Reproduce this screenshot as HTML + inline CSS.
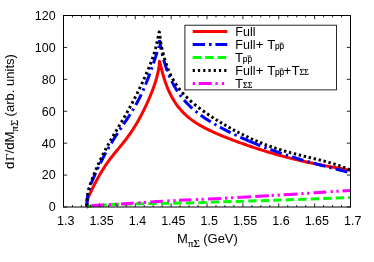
<!DOCTYPE html>
<html><head><meta charset="utf-8"><title>plot</title>
<style>
html,body{margin:0;padding:0;background:#fff;}
svg{display:block;will-change:transform;}
text{font-family:"Liberation Sans",sans-serif;fill:#000;}
text.sf{font-family:"Liberation Serif",serif;}
</style></head><body>
<svg width="374" height="262" viewBox="0 0 374 262">
<rect width="374" height="262" fill="#fff"/>

<g fill="none" stroke-width="3.0" stroke-linejoin="round">
<path d="M86.90,207.00 L86.91,205.72 L86.95,204.56 L87.01,203.52 L87.10,202.57 L87.22,201.70 L87.35,200.88 L87.52,200.11 L87.71,199.37 L87.92,198.65 L88.16,197.94 L88.42,197.23 L88.71,196.51 L89.02,195.78 L89.35,195.02 L89.71,194.23 L90.09,193.41 L90.49,192.56 L90.92,191.68 L91.37,190.75 L91.84,189.79 L92.34,188.79 L92.85,187.76 L93.39,186.69 L93.95,185.58 L94.52,184.44 L95.12,183.28 L95.74,182.09 L96.37,180.88 L97.03,179.65 L97.70,178.40 L98.39,177.14 L99.10,175.87 L99.83,174.59 L100.57,173.31 L101.32,172.03 L102.10,170.75 L102.88,169.48 L103.68,168.21 L104.50,166.95 L105.33,165.70 L106.17,164.46 L107.02,163.24 L107.88,162.02 L108.76,160.82 L109.64,159.62 L110.53,158.44 L111.44,157.27 L112.35,156.11 L113.27,154.96 L114.19,153.81 L115.12,152.67 L116.06,151.53 L117.00,150.39 L117.95,149.25 L118.90,148.11 L119.85,146.96 L120.81,145.80 L121.76,144.63 L122.72,143.44 L123.68,142.24 L124.64,141.03 L125.59,139.79 L126.55,138.54 L127.50,137.26 L128.45,135.97 L129.40,134.64 L130.34,133.30 L131.28,131.93 L132.21,130.53 L133.13,129.12 L134.05,127.67 L134.96,126.21 L135.87,124.72 L136.76,123.22 L137.64,121.69 L138.52,120.15 L139.38,118.59 L140.23,117.02 L141.07,115.44 L141.90,113.85 L142.72,112.26 L143.52,110.66 L144.30,109.06 L145.08,107.46 L145.83,105.86 L146.57,104.26 L147.30,102.68 L148.01,101.10 L148.70,99.53 L149.37,97.97 L150.03,96.43 L150.66,94.90 L151.28,93.38 L151.88,91.88 L152.45,90.39 L153.01,88.91 L153.55,87.45 L154.06,86.00 L154.56,84.56 L155.03,83.14 L155.48,81.73 L155.91,80.33 L156.31,78.94 L156.69,77.57 L157.05,76.21 L157.38,74.86 L157.69,73.53 L157.98,72.23 L158.24,70.94 L158.48,69.69 L158.69,68.48 L158.88,67.31 L159.05,66.20 L159.18,65.16 L159.30,64.21 L159.39,63.35 L159.45,62.61 L159.49,62.02 L159.50,61.60 L159.51,61.60 L159.53,61.60 L159.57,61.60 L159.62,61.60 L159.69,61.60 L159.77,61.73 L159.87,62.11 L159.98,62.59 L160.11,63.14 L160.25,63.76 L160.41,64.46 L160.59,65.22 L160.77,66.03 L160.98,66.90 L161.20,67.82 L161.43,68.78 L161.68,69.78 L161.94,70.81 L162.22,71.88 L162.52,72.98 L162.83,74.09 L163.15,75.23 L163.49,76.39 L163.84,77.57 L164.21,78.75 L164.60,79.94 L165.00,81.15 L165.41,82.35 L165.84,83.56 L166.29,84.77 L166.75,85.98 L167.22,87.18 L167.71,88.38 L168.22,89.58 L168.74,90.76 L169.28,91.94 L169.83,93.10 L170.39,94.26 L170.97,95.40 L171.57,96.53 L172.18,97.65 L172.81,98.75 L173.45,99.84 L174.10,100.91 L174.78,101.97 L175.46,103.01 L176.16,104.03 L176.88,105.03 L177.61,106.02 L178.36,107.00 L179.12,107.95 L179.90,108.89 L180.69,109.81 L181.50,110.71 L182.32,111.60 L183.16,112.47 L184.01,113.33 L184.88,114.17 L185.76,114.99 L186.66,115.80 L187.57,116.59 L188.50,117.37 L189.44,118.14 L190.40,118.89 L191.37,119.63 L192.36,120.35 L193.36,121.07 L194.38,121.77 L195.41,122.46 L196.46,123.14 L197.53,123.81 L198.60,124.47 L199.70,125.12 L200.81,125.76 L201.93,126.40 L203.07,127.02 L204.22,127.64 L205.39,128.25 L206.58,128.86 L207.78,129.46 L208.99,130.06 L210.22,130.65 L211.47,131.23 L212.72,131.82 L214.00,132.40 L215.29,132.97 L216.59,133.54 L217.91,134.11 L219.25,134.68 L220.60,135.25 L221.97,135.81 L223.35,136.38 L224.74,136.94 L226.15,137.50 L227.58,138.06 L229.02,138.63 L230.47,139.19 L231.95,139.75 L233.43,140.31 L234.93,140.87 L236.45,141.43 L237.98,141.99 L239.53,142.55 L241.09,143.11 L242.66,143.67 L244.26,144.23 L245.86,144.79 L247.48,145.36 L249.12,145.92 L250.77,146.48 L252.44,147.04 L254.12,147.60 L255.82,148.16 L257.53,148.72 L259.26,149.27 L261.00,149.83 L262.76,150.38 L264.53,150.94 L266.32,151.49 L268.12,152.04 L269.94,152.58 L271.77,153.13 L273.62,153.67 L275.48,154.20 L277.36,154.74 L279.26,155.27 L281.16,155.79 L283.09,156.32 L285.03,156.83 L286.98,157.35 L288.95,157.85 L290.93,158.36 L292.93,158.86 L294.95,159.35 L296.98,159.83 L299.02,160.32 L301.08,160.79 L303.15,161.26 L305.24,161.73 L307.35,162.19 L309.47,162.64 L311.60,163.09 L313.75,163.53 L315.92,163.97 L318.10,164.41 L320.29,164.84 L322.50,165.26 L324.73,165.68 L326.97,166.10 L329.22,166.52 L331.49,166.94 L333.78,167.35 L336.08,167.77 L338.39,168.18 L340.73,168.60 L343.07,169.02 L345.43,169.44 L347.81,169.87 L350.20,170.31" stroke="#ff0000"/>
<path d="M158.1,62.6 L158.85,59.5 L160.4,62.6 Z" fill="#ff0000" stroke="none"/>
<path d="M86.90,207.00 L86.91,205.28 L86.95,203.66 L87.01,202.14 L87.10,200.70 L87.22,199.33 L87.35,198.03 L87.52,196.77 L87.71,195.56 L87.92,194.39 L88.16,193.24 L88.42,192.11 L88.71,190.99 L89.02,189.88 L89.35,188.77 L89.71,187.66 L90.09,186.53 L90.49,185.40 L90.92,184.25 L91.37,183.08 L91.84,181.89 L92.34,180.67 L92.85,179.44 L93.39,178.18 L93.95,176.89 L94.52,175.58 L95.12,174.24 L95.74,172.88 L96.37,171.49 L97.03,170.08 L97.70,168.65 L98.39,167.20 L99.10,165.74 L99.83,164.25 L100.57,162.76 L101.32,161.25 L102.10,159.73 L102.88,158.20 L103.68,156.67 L104.50,155.13 L105.33,153.59 L106.17,152.05 L107.02,150.52 L107.88,148.98 L108.76,147.46 L109.64,145.94 L110.53,144.42 L111.44,142.92 L112.35,141.42 L113.27,139.93 L114.19,138.46 L115.12,136.99 L116.06,135.53 L117.00,134.08 L117.95,132.64 L118.90,131.21 L119.85,129.79 L120.81,128.36 L121.76,126.95 L122.72,125.53 L123.68,124.12 L124.64,122.70 L125.59,121.28 L126.55,119.85 L127.50,118.42 L128.45,116.97 L129.40,115.52 L130.34,114.05 L131.28,112.56 L132.21,111.05 L133.13,109.53 L134.05,107.99 L134.96,106.42 L135.87,104.83 L136.76,103.21 L137.64,101.57 L138.52,99.90 L139.38,98.21 L140.23,96.50 L141.07,94.76 L141.90,93.00 L142.72,91.23 L143.52,89.43 L144.30,87.62 L145.08,85.79 L145.83,83.96 L146.57,82.12 L147.30,80.28 L148.01,78.45 L148.70,76.62 L149.37,74.81 L150.03,73.01 L150.66,71.24 L151.28,69.50 L151.88,67.79 L152.45,66.12 L153.01,64.50 L153.55,62.92 L154.06,61.40 L154.56,59.94 L155.03,58.55 L155.48,57.22 L155.91,55.95 L156.31,54.75 L156.69,53.63 L157.05,52.57 L157.38,51.57 L157.69,50.64 L157.98,49.76 L158.24,48.93 L158.48,48.14 L158.69,47.37 L158.88,46.62 L159.05,45.86 L159.18,45.08 L159.30,44.26 L159.39,43.37 L159.45,42.39 L159.49,41.27 L159.50,40.00" stroke="#0000ff" stroke-dasharray="12.0 4.2 2.4 4.1" stroke-dashoffset="21.80"/>
<path d="M159.50,40.00 L159.51,40.06 L159.53,40.22 L159.57,40.49 L159.62,40.85 L159.69,41.30 L159.77,41.84 L159.87,42.45 L159.98,43.13 L160.11,43.88 L160.25,44.69 L160.41,45.56 L160.59,46.48 L160.77,47.46 L160.98,48.47 L161.20,49.53 L161.43,50.62 L161.68,51.75 L161.94,52.90 L162.22,54.09 L162.52,55.29 L162.83,56.52 L163.15,57.77 L163.49,59.03 L163.84,60.30 L164.21,61.58 L164.60,62.88 L165.00,64.17 L165.41,65.48 L165.84,66.78 L166.29,68.09 L166.75,69.39 L167.22,70.69 L167.71,71.99 L168.22,73.28 L168.74,74.57 L169.28,75.85 L169.83,77.12 L170.39,78.38 L170.97,79.63 L171.57,80.88 L172.18,82.11 L172.81,83.32 L173.45,84.53 L174.10,85.72 L174.78,86.90 L175.46,88.07 L176.16,89.22 L176.88,90.35 L177.61,91.48 L178.36,92.59 L179.12,93.68 L179.90,94.76 L180.69,95.83 L181.50,96.88 L182.32,97.91 L183.16,98.94 L184.01,99.94 L184.88,100.94 L185.76,101.92 L186.66,102.89 L187.57,103.84 L188.50,104.79 L189.44,105.72 L190.40,106.64 L191.37,107.54 L192.36,108.44 L193.36,109.32 L194.38,110.19 L195.41,111.06 L196.46,111.91 L197.53,112.76 L198.60,113.59 L199.70,114.42 L200.81,115.24 L201.93,116.05 L203.07,116.85 L204.22,117.64 L205.39,118.43 L206.58,119.22 L207.78,119.99 L208.99,120.76 L210.22,121.53 L211.47,122.29 L212.72,123.05 L214.00,123.80 L215.29,124.55 L216.59,125.29 L217.91,126.03 L219.25,126.77 L220.60,127.50 L221.97,128.24 L223.35,128.96 L224.74,129.69 L226.15,130.42 L227.58,131.14 L229.02,131.86 L230.47,132.58 L231.95,133.30 L233.43,134.01 L234.93,134.73 L236.45,135.44 L237.98,136.15 L239.53,136.86 L241.09,137.57 L242.66,138.28 L244.26,138.98 L245.86,139.69 L247.48,140.39 L249.12,141.09 L249.30,141.17" stroke="#0000ff" stroke-dasharray="12.0 4.2 2.4 4.1" stroke-dashoffset="2.49"/>
<path d="M249.30,141.17 L250.77,141.79 L252.44,142.49 L254.12,143.19 L255.82,143.88 L257.53,144.57 L259.26,145.26 L261.00,145.95 L262.76,146.64 L264.53,147.32 L266.32,148.00 L268.12,148.68 L269.94,149.35 L271.77,150.02 L273.62,150.69 L275.48,151.35 L277.36,152.01 L279.26,152.67 L281.16,153.33 L283.09,153.97 L285.03,154.62 L286.98,155.26 L288.95,155.90 L290.93,156.53 L292.93,157.16 L294.95,157.79 L296.98,158.41 L299.02,159.02 L301.08,159.64 L303.15,160.24 L305.24,160.85 L307.35,161.45 L309.47,162.05 L311.60,162.64 L313.75,163.24 L315.92,163.82 L318.10,164.41 L320.29,165.00 L322.50,165.58 L324.73,166.17 L326.97,166.75 L329.22,167.34 L331.49,167.93 L333.78,168.52 L336.08,169.11 L338.39,169.71 L340.73,170.31 L343.07,170.92 L345.43,171.54 L347.81,172.17 L350.20,172.80" stroke="#0000ff" stroke-dasharray="12.0 4.2 2.4 4.1"/>
<path d="M87.00,206.60 L92.00,205.80 L110.00,204.60 L140.00,203.70 L190.00,203.00 L215.00,202.00 L275.00,200.30 L320.00,198.70 L350.30,197.50" stroke="#00ff00" stroke-dasharray="8.3 4.2" stroke-dashoffset="1.1"/>
<path d="M158.89,33.31 L159.01,32.65 L159.18,32.00 L159.51,32.36 L159.56,33.03 M159.86,35.92 L159.94,36.59 L160.03,37.26 L160.12,37.92 L160.21,38.59 M160.65,41.47 L160.76,42.13 L160.87,42.79 L160.99,43.45 L161.11,44.11 M161.65,46.98 L161.78,47.63 L161.92,48.29 L162.06,48.95 L162.20,49.61 M162.85,52.45 L163.01,53.10 L163.17,53.75 L163.33,54.40 L163.50,55.05 M164.26,57.86 L164.45,58.51 L164.63,59.16 L164.83,59.80 L165.02,60.44 M165.91,63.22 L166.12,63.85 L166.34,64.49 L166.57,65.12 L166.79,65.75 M167.82,68.48 L168.07,69.10 L168.32,69.72 L168.58,70.35 L168.84,70.96 M170.03,73.62 L170.31,74.23 L170.61,74.84 L170.90,75.44 L171.20,76.04 M172.56,78.62 L172.88,79.21 L173.21,79.79 L173.55,80.38 L173.89,80.95 M175.42,83.43 L175.79,83.99 L176.15,84.56 L176.53,85.11 L176.91,85.67 M178.62,88.03 L179.02,88.56 L179.43,89.09 L179.85,89.62 L180.27,90.15 M182.14,92.38 L182.58,92.89 L183.02,93.39 L183.47,93.89 L183.93,94.39 M185.94,96.49 L186.41,96.97 L186.89,97.44 L187.37,97.91 L187.85,98.38 M189.98,100.38 L190.47,100.83 L190.97,101.27 L191.47,101.71 L191.98,102.15 M194.21,104.05 L194.72,104.46 L195.22,104.88 L195.73,105.29 L196.25,105.71 M198.51,107.48 L199.02,107.87 L199.53,108.26 L200.05,108.65 L200.56,109.03 M202.83,110.70 L203.35,111.07 L203.86,111.44 L204.37,111.81 L204.89,112.17 M207.16,113.75 L207.67,114.10 L208.18,114.45 L208.69,114.80 L209.21,115.14 M211.46,116.65 L211.97,116.98 L212.48,117.31 L212.99,117.64 L213.50,117.97 M215.73,119.40 L216.24,119.72 L216.74,120.04 L217.25,120.35 L217.76,120.67 M219.98,122.04 L220.49,122.35 L221.00,122.66 L221.51,122.97 L222.03,123.28 M224.26,124.61 L224.78,124.91 L225.30,125.21 L225.82,125.52 L226.34,125.82 M228.59,127.11 L229.11,127.41 L229.64,127.70 L230.16,127.99 L230.68,128.29 M232.96,129.54 L233.49,129.83 L234.01,130.12 L234.54,130.40 L235.07,130.68 M237.37,131.90 L237.90,132.18 L238.43,132.46 L238.96,132.73 L239.50,133.01 M241.82,134.19 L242.35,134.46 L242.89,134.72 L243.43,134.99 L243.96,135.26 M246.30,136.39 L246.84,136.65 L247.39,136.91 L247.93,137.16 L248.47,137.42 M250.83,138.51 L251.38,138.76 L251.92,139.01 L252.47,139.25 L253.02,139.50 M255.40,140.54 L255.96,140.78 L256.51,141.02 L257.07,141.25 L257.62,141.49 M260.03,142.49 L260.59,142.71 L261.15,142.94 L261.72,143.17 L262.28,143.39 M264.72,144.34 L265.29,144.56 L265.85,144.78 L266.42,144.99 L266.99,145.20 M269.46,146.11 L270.03,146.31 L270.61,146.52 L271.18,146.72 L271.76,146.92 M274.25,147.78 L274.83,147.97 L275.41,148.17 L276.00,148.36 L276.58,148.55 M279.10,149.36 L279.69,149.54 L280.27,149.73 L280.85,149.91 L281.44,150.09 M283.98,150.85 L284.57,151.02 L285.15,151.20 L285.74,151.37 L286.33,151.54 M288.88,152.26 L289.47,152.42 L290.06,152.58 L290.65,152.74 L291.24,152.90 M293.80,153.59 L294.40,153.74 L294.99,153.90 L295.58,154.05 L296.17,154.20 M298.74,154.86 L299.34,155.01 L299.93,155.16 L300.52,155.30 L301.12,155.45 M303.69,156.09 L304.29,156.23 L304.88,156.38 L305.48,156.52 L306.07,156.66 M308.65,157.29 L309.25,157.43 L309.84,157.58 L310.43,157.72 L311.03,157.86 M313.61,158.49 L314.20,158.63 L314.80,158.78 L315.39,158.92 L315.99,159.07 M318.56,159.71 L319.15,159.86 L319.75,160.01 L320.34,160.16 L320.93,160.31 M323.50,160.98 L324.09,161.13 L324.68,161.29 L325.27,161.45 L325.86,161.61 M328.42,162.32 L329.01,162.49 L329.60,162.66 L330.18,162.83 L330.77,163.00 M333.31,163.76 L333.89,163.94 L334.48,164.13 L335.06,164.32 L335.64,164.50 M338.16,165.34 L338.74,165.54 L339.32,165.74 L339.89,165.94 L340.47,166.15 M342.96,167.07 L343.53,167.29 L344.10,167.51 L344.67,167.74 L345.24,167.96 M347.69,168.98 L348.25,169.22 L348.81,169.47 L349.37,169.71 L349.93,169.96 M157.91,38.52 L158.03,37.91 L158.15,37.30 L158.27,36.69 L158.39,36.07 M156.75,43.80 L156.90,43.19 L157.04,42.58 L157.18,41.97 L157.31,41.36 M155.40,49.02 L155.57,48.42 L155.73,47.82 L155.89,47.22 L156.05,46.61 M153.85,54.20 L154.04,53.60 L154.23,53.01 L154.41,52.41 L154.59,51.81 M152.12,59.31 L152.33,58.72 L152.54,58.13 L152.74,57.54 L152.94,56.95 M150.23,64.37 L150.46,63.79 L150.68,63.21 L150.90,62.62 L151.12,62.04 M148.22,69.38 L148.46,68.80 L148.69,68.23 L148.93,67.65 L149.16,67.07 M146.10,74.35 L146.35,73.78 L146.60,73.20 L146.85,72.63 L147.09,72.06 M143.91,79.28 L144.17,78.72 L144.42,78.15 L144.68,77.58 L144.93,77.01 M141.65,84.19 L141.91,83.62 L142.18,83.06 L142.44,82.49 L142.70,81.92 M139.32,89.06 L139.59,88.50 L139.86,87.94 L140.14,87.37 L140.40,86.81 M136.93,93.90 L137.21,93.34 L137.49,92.79 L137.77,92.23 L138.04,91.67 M134.48,98.71 L134.77,98.16 L135.05,97.61 L135.34,97.05 L135.62,96.49 M131.96,103.49 L132.26,102.94 L132.55,102.39 L132.84,101.84 L133.14,101.29 M129.38,108.24 L129.69,107.69 L129.99,107.14 L130.29,106.60 L130.58,106.05 M126.74,112.94 L127.05,112.40 L127.36,111.86 L127.66,111.32 L127.97,110.77 M124.04,117.62 L124.36,117.08 L124.67,116.54 L124.98,116.00 L125.30,115.46 M121.30,122.27 L121.62,121.74 L121.94,121.20 L122.26,120.66 L122.57,120.13 M118.53,126.91 L118.85,126.38 L119.17,125.84 L119.49,125.30 L119.81,124.77 M115.76,131.55 L116.08,131.01 L116.40,130.47 L116.72,129.94 L117.04,129.40 M113.01,136.19 L113.33,135.66 L113.65,135.12 L113.96,134.58 L114.28,134.04 M110.31,140.87 L110.62,140.33 L110.93,139.79 L111.24,139.24 L111.55,138.70 M107.68,145.58 L107.98,145.04 L108.28,144.49 L108.58,143.94 L108.88,143.40 M105.13,150.34 L105.41,149.79 L105.71,149.24 L106.00,148.69 L106.29,148.14 M102.67,155.15 L102.95,154.59 L103.23,154.03 L103.51,153.48 L103.79,152.92 M100.30,160.01 L100.57,159.44 L100.84,158.88 L101.11,158.32 L101.38,157.75 M98.04,164.91 L98.29,164.34 L98.55,163.77 L98.81,163.20 L99.07,162.63 M95.86,169.85 L96.11,169.28 L96.36,168.70 L96.61,168.13 L96.86,167.56 M93.79,174.83 L94.02,174.26 L94.26,173.68 L94.50,173.10 L94.74,172.52 M91.82,179.86 L92.04,179.28 L92.26,178.70 L92.49,178.11 L92.71,177.53 M90.02,184.95 L90.21,184.36 L90.41,183.77 L90.62,183.18 L90.82,182.59 M88.52,190.14 L88.67,189.53 L88.83,188.93 L88.99,188.33 L89.16,187.73 M87.52,195.44 L87.61,194.83 L87.70,194.21 L87.81,193.59 L87.91,192.98 M87.04,200.82 L87.08,200.20 L87.11,199.57 L87.16,198.95 L87.21,198.33 M86.90,206.22 L86.91,205.59 L86.91,204.97 L86.92,204.35 L86.94,203.72" stroke="#000000"/>
<path d="M86.60,207.00 L87.00,207.00 L87.60,206.81 M91.80,205.46 L92.00,205.40 L104.00,205.00 M108.70,204.70 L111.00,204.56 M115.00,204.31 L117.30,204.16 M121.00,203.93 L131.00,203.30 L133.60,203.12 M138.30,202.79 L140.60,202.64 M143.90,202.41 L146.20,202.25 M150.20,201.97 L157.00,201.50 L162.80,201.19 M167.30,200.95 L169.60,200.82 M173.30,200.63 L175.60,200.50 M179.00,200.32 L185.00,200.00 L191.50,199.74 M195.90,199.56 L198.20,199.47 M201.50,199.34 L203.80,199.25 M207.90,199.08 L215.00,198.80 L221.40,198.42 M225.00,198.20 L227.30,198.07 M231.00,197.85 L233.30,197.71 M237.40,197.47 L251.30,196.64 M255.20,196.41 L262.00,196.00 L268.90,195.63 M271.60,195.49 L273.90,195.36 M277.60,195.16 L279.90,195.04 M283.60,194.84 L290.00,194.50 L297.50,193.97 M301.30,193.71 L303.60,193.55 M307.10,193.30 L309.40,193.14 M313.50,192.86 L320.00,192.40 L326.20,191.99 M330.60,191.70 L332.90,191.55 M336.40,191.32 L338.70,191.17 M342.40,190.92 L350.30,190.40" stroke="#ff00ff"/>
</g>
<g stroke="#000" stroke-width="1" fill="none">
<rect x="63.5" y="15.5" width="287.0" height="191.5"/>
<path d="M63.50,207.0 v-3.7 M63.50,15.5 v3.7 M99.38,207.0 v-3.7 M99.38,15.5 v3.7 M135.25,207.0 v-3.7 M135.25,15.5 v3.7 M171.13,207.0 v-3.7 M171.13,15.5 v3.7 M207.00,207.0 v-3.7 M207.00,15.5 v3.7 M242.88,207.0 v-3.7 M242.88,15.5 v3.7 M278.75,207.0 v-3.7 M278.75,15.5 v3.7 M314.63,207.0 v-3.7 M314.63,15.5 v3.7 M350.50,207.0 v-3.7 M350.50,15.5 v3.7 M72.47,207.0 v-1.9 M72.47,15.5 v1.9 M81.44,207.0 v-1.9 M81.44,15.5 v1.9 M90.41,207.0 v-1.9 M90.41,15.5 v1.9 M108.34,207.0 v-1.9 M108.34,15.5 v1.9 M117.31,207.0 v-1.9 M117.31,15.5 v1.9 M126.28,207.0 v-1.9 M126.28,15.5 v1.9 M144.22,207.0 v-1.9 M144.22,15.5 v1.9 M153.19,207.0 v-1.9 M153.19,15.5 v1.9 M162.16,207.0 v-1.9 M162.16,15.5 v1.9 M180.09,207.0 v-1.9 M180.09,15.5 v1.9 M189.06,207.0 v-1.9 M189.06,15.5 v1.9 M198.03,207.0 v-1.9 M198.03,15.5 v1.9 M215.97,207.0 v-1.9 M215.97,15.5 v1.9 M224.94,207.0 v-1.9 M224.94,15.5 v1.9 M233.91,207.0 v-1.9 M233.91,15.5 v1.9 M251.84,207.0 v-1.9 M251.84,15.5 v1.9 M260.81,207.0 v-1.9 M260.81,15.5 v1.9 M269.78,207.0 v-1.9 M269.78,15.5 v1.9 M287.72,207.0 v-1.9 M287.72,15.5 v1.9 M296.69,207.0 v-1.9 M296.69,15.5 v1.9 M305.66,207.0 v-1.9 M305.66,15.5 v1.9 M323.59,207.0 v-1.9 M323.59,15.5 v1.9 M332.56,207.0 v-1.9 M332.56,15.5 v1.9 M341.53,207.0 v-1.9 M341.53,15.5 v1.9 M63.5,207.00 h3.7 M350.5,207.00 h-3.7 M63.5,175.08 h3.7 M350.5,175.08 h-3.7 M63.5,143.17 h3.7 M350.5,143.17 h-3.7 M63.5,111.25 h3.7 M350.5,111.25 h-3.7 M63.5,79.33 h3.7 M350.5,79.33 h-3.7 M63.5,47.42 h3.7 M350.5,47.42 h-3.7 M63.5,15.50 h3.7 M350.5,15.50 h-3.7" stroke-width="0.85"/>
</g>
<g font-size="12.5">
<text x="65.70" y="225" text-anchor="middle">1.3</text>
<text x="101.58" y="225" text-anchor="middle">1.35</text>
<text x="137.45" y="225" text-anchor="middle">1.4</text>
<text x="173.33" y="225" text-anchor="middle">1.45</text>
<text x="209.20" y="225" text-anchor="middle">1.5</text>
<text x="245.07" y="225" text-anchor="middle">1.55</text>
<text x="280.95" y="225" text-anchor="middle">1.6</text>
<text x="316.83" y="225" text-anchor="middle">1.65</text>
<text x="352.70" y="225" text-anchor="middle">1.7</text>
<text x="55.7" y="211.40" text-anchor="end">0</text>
<text x="55.7" y="179.48" text-anchor="end">20</text>
<text x="55.7" y="147.57" text-anchor="end">40</text>
<text x="55.7" y="115.65" text-anchor="end">60</text>
<text x="55.7" y="83.73" text-anchor="end">80</text>
<text x="55.7" y="51.82" text-anchor="end">100</text>
<text x="55.7" y="19.90" text-anchor="end">120</text>
</g>
<text x="177.1" y="242.8" font-size="13">M</text>
<text transform="translate(188.0,246.8) scale(1.05,1)" font-size="10.5" class="sf" stroke="#000" stroke-width="0.12">πΣ</text>
<text x="203.2" y="242.8" font-size="13">(GeV)</text>
<g transform="translate(13.8,111.3) rotate(-90)">
<text x="-57.6" y="0" font-size="13.2">d</text>
<text x="-49.6" y="0" font-size="13.2" class="sf">Γ</text>
<text x="-42.2" y="0" font-size="13.2">/dM</text>
<text x="-20.1" y="3.8" font-size="10.5" class="sf" stroke="#000" stroke-width="0.12">πΣ</text>
<text x="-5.1" y="0" font-size="13.05">(arb. units)</text>
</g>
<rect x="184.9" y="25.2" width="151.6" height="64.7" fill="#fff" stroke="#000" stroke-width="0.85"/>
<g fill="none" stroke-width="3.0">
<path d="M192.7,31.5 H227.3" stroke="#ff0000"/>
<path d="M192.7,44.5 H227.3" stroke="#0000ff" stroke-dasharray="12.3 4.0 2.6 3.8"/>
<path d="M192.7,57.6 H227.3" stroke="#00ff00" stroke-dasharray="8.4 4.1"/>
<path d="M192.7,70.5 H227.3" stroke="#000" stroke-dasharray="2.2 3.05"/>
<path d="M192.7,83.6 H227.3" stroke="#ff00ff" stroke-dasharray="2.3 3.7 13.1 3.6 2.3 4.1 2.3 10"/>
</g>
<g font-size="12.5">
<text x="235.3" y="35.5">Full</text>
<text x="235.3" y="48.7">Full</text><text x="255.8" y="48.7" font-size="13.2">+</text><text x="267.3" y="48.7" font-size="13.2">T</text><text x="275.0" y="48.90" font-size="8.3" stroke="#000" stroke-width="0.15">pp</text><path d="M279.60,43.10 h3.5" stroke="#000" stroke-width="0.8"/>
<text x="235.1" y="61.6" font-size="13.2">T</text><text x="242.8" y="61.80" font-size="8.3" stroke="#000" stroke-width="0.15">pp</text><path d="M247.40,56.00 h3.5" stroke="#000" stroke-width="0.8"/>
<text x="235.3" y="74.6">Full</text><text x="255.8" y="74.6" font-size="13.2">+</text><text x="267.3" y="74.6" font-size="13.2">T</text><text x="275.0" y="74.80" font-size="8.3" stroke="#000" stroke-width="0.15">pp</text><path d="M279.60,69.00 h3.5" stroke="#000" stroke-width="0.8"/><text x="283.5" y="74.6" font-size="13.2">+</text><text x="291.4" y="74.6" font-size="13.2">T</text><text transform="translate(299.4,74.90) scale(1.04,1)" font-size="7.8" class="sf" stroke="#000" stroke-width="0.2">ΣΣ</text>
<text x="235.1" y="87.5" font-size="13.2">T</text><text transform="translate(243.0,87.80) scale(1.04,1)" font-size="7.8" class="sf" stroke="#000" stroke-width="0.2">ΣΣ</text>
</g>
</svg></body></html>
